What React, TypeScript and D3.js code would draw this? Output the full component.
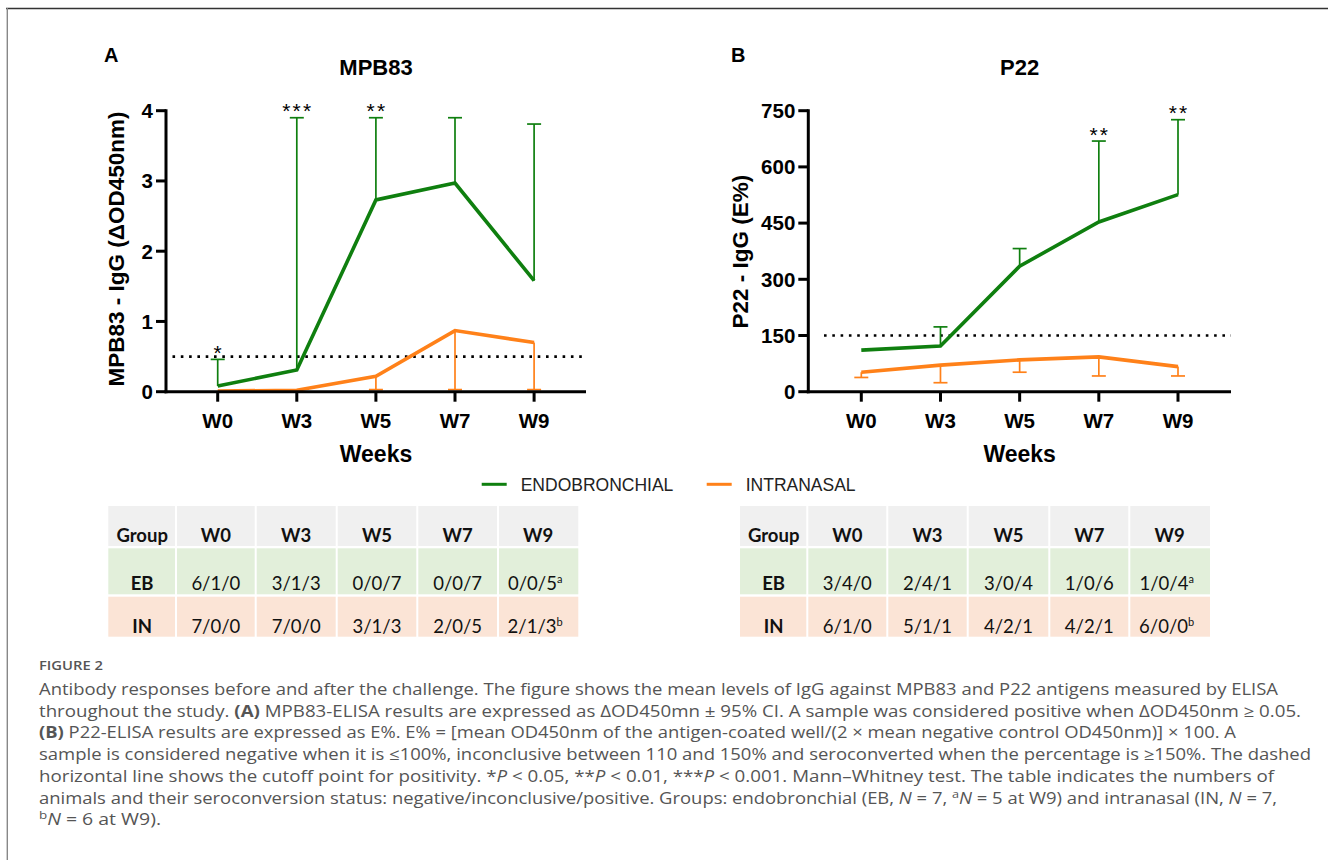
import React from 'react';
import * as d3 from 'd3';

// ---------- DATA ----------
const weeks = ['W0', 'W3', 'W5', 'W7', 'W9'];

const mpbEB = [0.08, 0.31, 2.73, 2.97, 1.58];
const mpbEBUpper = [0.46, 3.9, 3.9, 3.9, 3.81];
const mpbIN = [0.01, 0.02, 0.22, 0.87, 0.7];
const mpbINLower = [null, null, 0.03, 0.03, 0.03];
const mpbStars = ['*', '***', '**', '', ''];
const mpbTicks = [0, 1, 2, 3, 4];
const mpbCutoff = 0.5;

const p22EB = [111, 122, 335, 453, 526];
const p22EBUpper = [null, 173, 382, 669, 726];
const p22IN = [52, 71, 85, 93, 67];
const p22INLower = [38, 24, 52, 42, 42];
const p22Stars = ['', '', '', '**', '**'];
const p22Ticks = [0, 150, 300, 450, 600, 750];
const p22Cutoff = 150;

const tableHeader = ['Group', 'W0', 'W3', 'W5', 'W7', 'W9'];
const groups = ['EB', 'IN'];
const mpbTableEB = ['6/1/0', '3/1/3', '0/0/7', '0/0/7', '0/0/5'];
const mpbTableIN = ['7/0/0', '7/0/0', '3/1/3', '2/0/5', '2/1/3'];
const p22TableEB = ['3/4/0', '2/4/1', '3/0/4', '1/0/6', '1/0/4'];
const p22TableIN = ['6/1/0', '5/1/1', '4/2/1', '4/2/1', '6/0/0'];
const footEB = 'a';
const footIN = 'b';

const legendLabels = ['ENDOBRONCHIAL', 'INTRANASAL'];

// ---------- STYLE ----------
const GREEN = '#0f7f0f';
const ORANGE = '#ff8119';
const CHART_FONT = '"Liberation Sans", Arial, sans-serif';
const TABLE_FONT = 'Lato, "Noto Sans", sans-serif';
const CAPTION_FONT = '"Open Sans", "Noto Sans", sans-serif';

type PanelProps = {
  letter: string;
  title: string;
  yLabel: string;
  axisX: number;
  axisEnd: number;
  firstX: number;
  lastX: number;
  yMax: number;
  ticks: number[];
  eb: number[];
  ebUpper: (number | null)[];
  inn: number[];
  innLower: (number | null)[];
  stars: string[];
  cutoff: number;
  cutStart: number;
  letterX: number;
  yLabelX: number;
  yLabelY: number;
};

function Panel(p: PanelProps) {
  const yTop = 110.7;
  const yBottom = 391.7;
  const x = d3.scalePoint<string>().domain(weeks).range([p.firstX, p.lastX]);
  const y = d3.scaleLinear().domain([0, p.yMax]).range([yBottom, yTop]);
  const line = d3
    .line<number>()
    .x((_, i) => x(weeks[i]) as number)
    .y((d) => y(d));
  const cap = 7;
  const titleX = (p.axisX + p.axisEnd) / 2;
  return (
    <g>
      <text x={p.letterX} y={62} fontFamily={CHART_FONT} fontWeight="bold" fontSize={20} fill="#000">
        {p.letter}
      </text>
      <text x={titleX} y={74.5} textAnchor="middle" fontFamily={CHART_FONT} fontWeight="bold" fontSize={22} fill="#000">
        {p.title}
      </text>
      <text
        transform={`translate(${p.yLabelX},${p.yLabelY}) rotate(-90)`}
        textAnchor="middle"
        dominantBaseline="central"
        fontFamily={CHART_FONT}
        fontWeight="bold"
        fontSize={22.5}
        fill="#000"
      >
        {p.yLabel}
      </text>
      {/* cutoff */}
      <line
        x1={p.cutStart}
        x2={p.axisEnd}
        y1={y(p.cutoff)}
        y2={y(p.cutoff)}
        stroke="#000"
        strokeWidth={2.6}
        strokeDasharray="2.6 5.7"
      />
      {/* error bars EB (upper) */}
      {p.ebUpper.map((u, i) =>
        u == null ? null : (
          <g key={'eu' + i} stroke={GREEN} strokeWidth={1.7}>
            <line x1={x(weeks[i])} x2={x(weeks[i])} y1={y(p.eb[i])} y2={y(u)} />
            <line x1={(x(weeks[i]) as number) - cap} x2={(x(weeks[i]) as number) + cap} y1={y(u)} y2={y(u)} />
          </g>
        )
      )}
      {/* error bars IN (lower) */}
      {p.innLower.map((l, i) =>
        l == null ? null : (
          <g key={'il' + i} stroke={ORANGE} strokeWidth={1.7}>
            <line x1={x(weeks[i])} x2={x(weeks[i])} y1={y(p.inn[i])} y2={y(l)} />
            <line x1={(x(weeks[i]) as number) - cap} x2={(x(weeks[i]) as number) + cap} y1={y(l)} y2={y(l)} />
          </g>
        )
      )}
      <path d={line(p.inn) || ''} fill="none" stroke={ORANGE} strokeWidth={3.6} strokeLinejoin="miter" />
      <path d={line(p.eb) || ''} fill="none" stroke={GREEN} strokeWidth={3.6} strokeLinejoin="miter" />
      {/* stars */}
      {p.stars.map((s, i) =>
        s ? (
          <text
            key={'s' + i}
            x={(x(weeks[i]) as number) + 1}
            y={y((p.ebUpper[i] as number) ?? p.eb[i]) + 0.5}
            textAnchor="middle"
            fontFamily={CHART_FONT}
            fontSize={21}
            letterSpacing={2.2}
            fill="#000"
          >
            {s}
          </text>
        ) : null
      )}
      {/* axes */}
      <line x1={p.axisX} x2={p.axisX} y1={yTop - 1.5} y2={yBottom + 1.5} stroke="#000" strokeWidth={3} />
      <line x1={p.axisX - 1.5} x2={p.axisEnd} y1={yBottom} y2={yBottom} stroke="#000" strokeWidth={3} />
      {p.ticks.map((t) => (
        <g key={'yt' + t}>
          <line x1={p.axisX - 10} x2={p.axisX} y1={y(t)} y2={y(t)} stroke="#000" strokeWidth={3} />
          <text
            x={p.axisX - 13}
            y={y(t)}
            dy="0.36em"
            textAnchor="end"
            fontFamily={CHART_FONT}
            fontWeight="bold"
            fontSize={20.5}
            fill="#000"
          >
            {t}
          </text>
        </g>
      ))}
      {weeks.map((w) => (
        <g key={'xt' + w}>
          <line x1={x(w)} x2={x(w)} y1={yBottom} y2={yBottom + 10} stroke="#000" strokeWidth={3} />
          <text
            x={x(w)}
            y={427.5}
            textAnchor="middle"
            fontFamily={CHART_FONT}
            fontWeight="bold"
            fontSize={20.5}
            fill="#000"
          >
            {w}
          </text>
        </g>
      ))}
      <text x={titleX} y={461.5} textAnchor="middle" fontFamily={CHART_FONT} fontWeight="bold" fontSize={23} fill="#000">
        Weeks
      </text>
    </g>
  );
}

type TableProps = {
  cols: number[];
  eb: string[];
  inn: string[];
};

function DataTable({ cols, eb, inn }: TableProps) {
  const rows = [
    { y0: 506, y1: 546, fill: '#f0f0f0', base: 542 },
    { y0: 548.3, y1: 594.3, fill: '#e2efda', base: 590 },
    { y0: 596.7, y1: 636.7, fill: '#fbe4d6', base: 632.7 },
  ];
  const cells = [tableHeader, [groups[0], ...eb], [groups[1], ...inn]];
  return (
    <g>
      {rows.map((r, ri) =>
        cols.slice(0, -1).map((c, ci) => (
          <rect
            key={`r${ri}c${ci}`}
            x={c + (ci === 0 ? 0 : 1)}
            y={r.y0}
            width={cols[ci + 1] - c - (ci === 0 ? 1 : 2) + (ci === cols.length - 2 ? 1 : 0)}
            height={r.y1 - r.y0}
            fill={r.fill}
          />
        ))
      )}
      {rows.map((r, ri) =>
        cells[ri].map((t, ci) => {
          const cx = (cols[ci] + cols[ci + 1]) / 2;
          const bold = ri === 0 || ci === 0;
          const sup = ci === 5 && ri > 0 ? (ri === 1 ? footEB : footIN) : '';
          return (
            <text
              key={`t${ri}${ci}`}
              x={cx + (sup ? -3 : 0)}
              y={r.base}
              textAnchor="middle"
              fontFamily={TABLE_FONT}
              fontWeight={bold ? 'bold' : 'normal'}
              fontSize={18.5}
              fill="#111"
            >
              {t}
              {sup ? (
                <tspan fontSize={11} dy={-7}>
                  {sup}
                </tspan>
              ) : null}
            </text>
          );
        })
      )}
    </g>
  );
}

export default function App() {
  const capX = 39;
  const capY0 = 695;
  const lh = 21.7;
  const capProps = {
    fontFamily: CAPTION_FONT,
    fontSize: 16,
    fill: '#555',
    lengthAdjust: 'spacingAndGlyphs' as const,
  };
  return (
    <div style={{ position: 'fixed', left: 0, top: 0 }}>
      <svg width={1328} height={860} style={{ display: 'block', background: '#fff' }}>
        {/* frame */}
        <line x1={6} x2={1328} y1={8.5} y2={8.5} stroke="#333" strokeWidth={1.6} />
        <line x1={7.3} x2={7.3} y1={8} y2={860} stroke="#888" strokeWidth={1.4} />

        <Panel
          letter="A"
          title="MPB83"
          yLabel="MPB83 - IgG (ΔOD450nm)"
          axisX={166}
          axisEnd={586}
          firstX={217.7}
          lastX={534.1}
          yMax={4}
          ticks={mpbTicks}
          eb={mpbEB}
          ebUpper={mpbEBUpper}
          inn={mpbIN}
          innLower={mpbINLower}
          stars={mpbStars}
          cutoff={mpbCutoff}
          cutStart={172.5}
          letterX={104}
          yLabelX={116.7}
          yLabelY={249}
        />
        <Panel
          letter="B"
          title="P22"
          yLabel="P22 - IgG (E%)"
          axisX={808.3}
          axisEnd={1231}
          firstX={861.3}
          lastX={1178}
          yMax={750}
          ticks={p22Ticks}
          eb={p22EB}
          ebUpper={p22EBUpper}
          inn={p22IN}
          innLower={p22INLower}
          stars={p22Stars}
          cutoff={p22Cutoff}
          cutStart={824}
          letterX={731}
          yLabelX={740}
          yLabelY={251.7}
        />

        {/* legend */}
        <g fontFamily={CHART_FONT} fontSize={17.5} fill="#222">
          <line x1={481.7} x2={506.7} y1={484.3} y2={484.3} stroke={GREEN} strokeWidth={3} />
          <text x={520.7} y={490.8}>{legendLabels[0]}</text>
          <line x1={706.7} x2={731.7} y1={484.3} y2={484.3} stroke={ORANGE} strokeWidth={3} />
          <text x={745.7} y={490.8}>{legendLabels[1]}</text>
        </g>

        <DataTable cols={[108.3, 176, 255.7, 336.7, 417.3, 498, 578.3]} eb={mpbTableEB} inn={mpbTableIN} />
        <DataTable cols={[740, 807.3, 887.3, 967.7, 1049.3, 1129.3, 1210]} eb={p22TableEB} inn={p22TableIN} />

        {/* caption */}
        <text x={capX} y={670} fontFamily={CAPTION_FONT} fontSize={13} fontWeight={600} fill="#555" textLength={64} lengthAdjust="spacingAndGlyphs">
          FIGURE 2
        </text>
        <text x={capX} y={capY0} {...capProps} textLength={1239}>
          Antibody responses before and after the challenge. The figure shows the mean levels of IgG against MPB83 and P22 antigens measured by ELISA
        </text>
        <text x={capX} y={capY0 + lh} {...capProps} textLength={1262}>
          throughout the study. <tspan fontWeight="bold">(A)</tspan> MPB83-ELISA results are expressed as ΔOD450mn ± 95% CI. A sample was considered positive when ΔOD450nm ≥ 0.05.
        </text>
        <text x={capX} y={capY0 + 2 * lh} {...capProps} textLength={1197}>
          <tspan fontWeight="bold">(B)</tspan> P22-ELISA results are expressed as E%. E% = [mean OD450nm of the antigen-coated well/(2 × mean negative control OD450nm)] × 100. A
        </text>
        <text x={capX} y={capY0 + 3 * lh} {...capProps} textLength={1272}>
          sample is considered negative when it is ≤100%, inconclusive between 110 and 150% and seroconverted when the percentage is ≥150%. The dashed
        </text>
        <text x={capX} y={capY0 + 4 * lh} {...capProps} textLength={1235}>
          horizontal line shows the cutoff point for positivity. *<tspan fontStyle="italic">P</tspan> &lt; 0.05, **<tspan fontStyle="italic">P</tspan> &lt; 0.01, ***<tspan fontStyle="italic">P</tspan> &lt; 0.001. Mann–Whitney test. The table indicates the numbers of
        </text>
        <text x={capX} y={capY0 + 5 * lh} {...capProps} textLength={1238}>
          animals and their seroconversion status: negative/inconclusive/positive. Groups: endobronchial (EB, <tspan fontStyle="italic">N</tspan> = 7, <tspan fontSize={11} dy={-6}>a</tspan><tspan fontStyle="italic" dy={6}>N</tspan> = 5 at W9) and intranasal (IN, <tspan fontStyle="italic">N</tspan> = 7,
        </text>
        <text x={capX} y={capY0 + 6 * lh} {...capProps} textLength={122}>
          <tspan fontSize={11} dy={-6}>b</tspan><tspan fontStyle="italic" dy={6}>N</tspan> = 6 at W9).
        </text>
      </svg>
    </div>
  );
}
